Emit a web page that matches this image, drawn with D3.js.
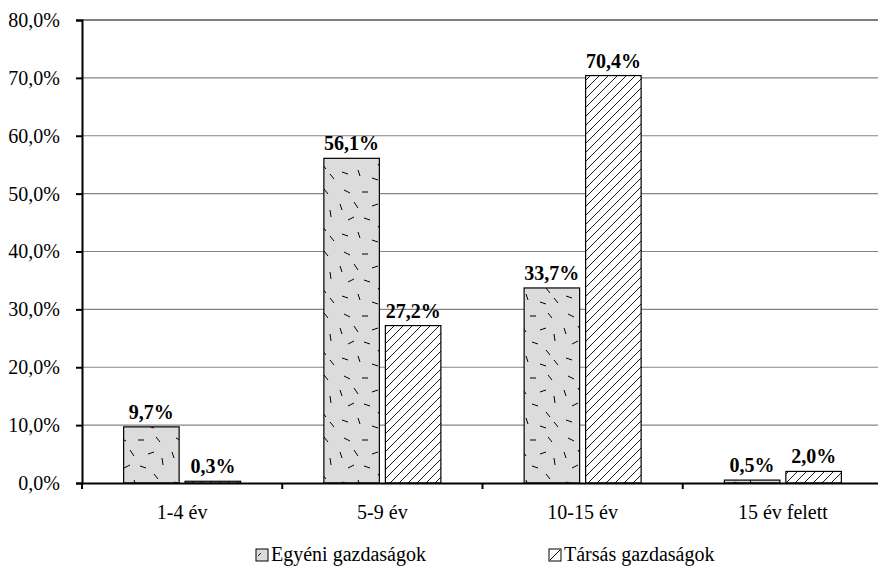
<!DOCTYPE html>
<html><head><meta charset="utf-8">
<script src="https://cdn.jsdelivr.net/npm/d3@7"></script>
<style>
html,body{margin:0;padding:0;background:#fff;overflow:hidden;}
svg{display:block;}
text{font-family:"Liberation Serif","Times New Roman",serif;fill:#000;}
</style></head>
<body>
<svg id="chart" width="878" height="569"></svg>
<script>
const categories = ["1-4 év", "5-9 év", "10-15 év", "15 év felett"];
const seriesNames = ["Egyéni gazdaságok", "Társás gazdaságok"];
const egyeni = [9.7, 56.1, 33.7, 0.5];
const tarsas = [0.3, 27.2, 70.4, 2.0];
const yTicks = [0, 10, 20, 30, 40, 50, 60, 70, 80];

const svg = d3.select("#chart");
const margin = {left: 82, top: 20};
const plotR = 883, plotB = 483;
const FS = 20;

const defs = svg.append("defs");
// hatch pattern
const hatch = defs.append("pattern").attr("id","hatch").attr("patternUnits","userSpaceOnUse")
  .attr("width",9).attr("height",9);
hatch.append("rect").attr("width",9).attr("height",9).attr("fill","#fff");
hatch.append("path").attr("d","M-1,10 L10,-1 M-2,2 L2,-2 M7,11 L11,7").attr("stroke","#000").attr("stroke-width",0.9);
// speckle pattern
const speck = defs.append("pattern").attr("id","speck").attr("patternUnits","userSpaceOnUse")
  .attr("width",56).attr("height",62);
speck.append("rect").attr("width",56).attr("height",62).attr("fill","#dcdcdc");
const dashes = [[8,4,14,7],[26,6,32,6],[44,3,48,8],[4,18,6,24],[18,16,22,22],[36,20,42,18],[50,24,51,31],
  [12,34,18,31],[28,32,34,34],[42,40,46,45],[6,48,12,50],[22,46,24,52],[36,54,42,56],[50,50,54,55]];
dashes.forEach(d=>speck.append("line").attr("x1",d[0]).attr("y1",d[1]).attr("x2",d[2]).attr("y2",d[3])
  .attr("stroke","#000").attr("stroke-width",1));

const x0 = d3.scaleBand().domain(categories).range([margin.left, plotR]).paddingInner(0).paddingOuter(0);
const x1 = d3.scaleBand().domain(seriesNames).range([0, 117]).paddingInner(0.0976);
const y = d3.scaleLinear().domain([0, 80]).range([plotB, margin.top]);

// grid
svg.append("g").selectAll("line").data(yTicks.filter(t=>t>0)).join("line")
  .attr("x1", margin.left).attr("x2", plotR)
  .attr("y1", d=>y(d)).attr("y2", d=>y(d))
  .attr("stroke", d=> d===80 ? "#000" : "#858585").attr("stroke-width",1.2);

// y axis
const yAxis = d3.axisLeft(y).tickValues(yTicks).tickSize(6).tickPadding(16)
  .tickFormat(d => d3.format(".1f")(d).replace(".", ",") + "%");
const gy = svg.append("g").attr("transform",`translate(${margin.left},0)`).call(yAxis);
gy.select(".domain").attr("stroke","#000").attr("stroke-width",2);
gy.selectAll(".tick line").attr("stroke","#000").attr("stroke-width",2);
gy.selectAll("text").attr("font-size",FS).style("font-family",'"Liberation Serif",serif');

const series = [{name:seriesNames[0], vals:egyeni, fill:"url(#speck)"},{name:seriesNames[1], vals:tarsas, fill:"url(#hatch)"}];
const groupOffset = (x0.bandwidth() - 117)/2;

series.forEach(s=>{
  const g = svg.append("g");
  g.selectAll("rect").data(categories).join("rect")
    .attr("x", (c)=> x0(c) + groupOffset + x1(s.name))
    .attr("width", x1.bandwidth())
    .attr("y", (c,i)=> y(s.vals[i]))
    .attr("height", (c,i)=> y(0)-y(s.vals[i]))
    .attr("fill", s.fill).attr("stroke","#000").attr("stroke-width",1.2);
  g.selectAll("text").data(categories).join("text")
    .attr("x", (c)=> x0(c) + groupOffset + x1(s.name) + x1.bandwidth()/2)
    .attr("y", (c,i)=> y(s.vals[i]) - 8)
    .attr("text-anchor","middle").attr("font-size",FS).attr("font-weight","bold")
    .text((c,i)=> d3.format(".1f")(s.vals[i]).replace(".", ",") + "%");
});

// x axis
const xAxis = d3.axisBottom(x0).tickSize(0).tickPadding(22);
const gx = svg.append("g").attr("transform",`translate(0,${plotB})`).call(xAxis);
gx.select(".domain").attr("stroke","#000").attr("stroke-width",2);
gx.selectAll("text").attr("font-size",FS).style("font-family",'"Liberation Serif",serif');
// boundary ticks
const bounds = categories.map(c=>x0(c)).concat([plotR]);
svg.append("g").selectAll("line").data(bounds).join("line")
  .attr("x1",d=>d).attr("x2",d=>d).attr("y1",plotB).attr("y2",plotB+6)
  .attr("stroke","#000").attr("stroke-width",2);

// legend
const legX = [256, 549];
series.forEach((s,i)=>{
  svg.append("rect").attr("x",legX[i]).attr("y",549).attr("width",12).attr("height",12)
    .attr("fill", i===0 ? "#dcdcdc" : "#fff").attr("stroke","#000").attr("stroke-width",1);
  if(i===0){
    svg.append("line").attr("x1",legX[i]+2).attr("y1",556).attr("x2",legX[i]+5).attr("y2",553).attr("stroke","#000").attr("stroke-width",0.9);
  } else {
    svg.append("line").attr("x1",legX[i]+1).attr("y1",560).attr("x2",legX[i]+11).attr("y2",550).attr("stroke","#000").attr("stroke-width",1);
  }
  svg.append("text").attr("x",legX[i]+15).attr("y",561).attr("font-size",FS).text(s.name);
});
</script>
</body></html>
